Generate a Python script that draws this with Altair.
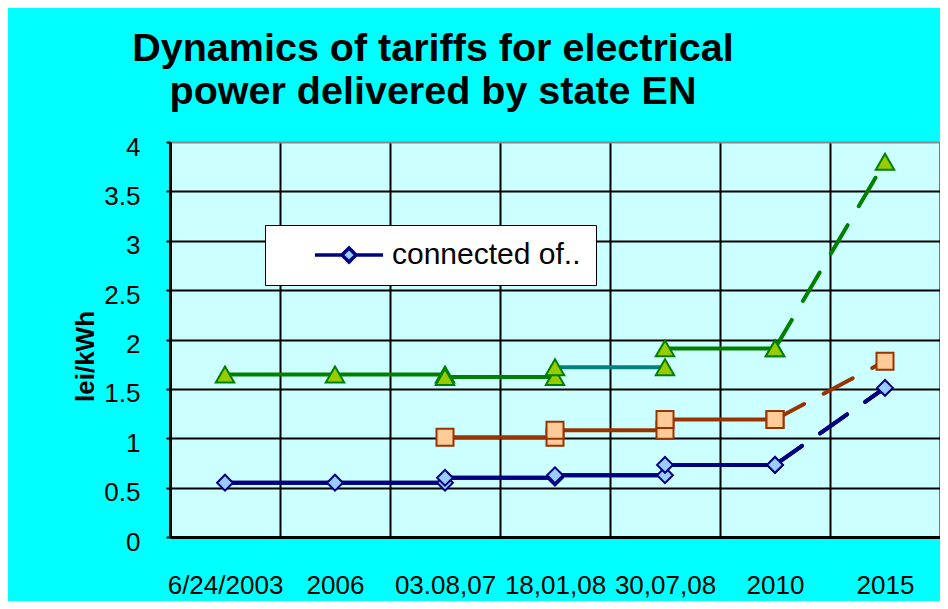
import altair as alt
import pandas as pd

categories = ["6/24/2003", "2006", "03.08,07", "18,01,08", "30,07,08", "2010", "2015"]

# "connected of.." series (blue diamonds), step segments
blue_a_x = ["6/24/2003", "2006", "03.08,07"]
blue_a_y = [0.55, 0.55, 0.55]
blue_b_x = ["03.08,07", "18,01,08"]
blue_b_y = [0.60, 0.60]
blue_c_x = ["18,01,08", "30,07,08"]
blue_c_y = [0.625, 0.625]
blue_d_x = ["30,07,08", "2010"]
blue_d_y = [0.73, 0.73]
blue_e_x = ["2010", "2015"]
blue_e_y = [0.73, 1.51]

# orange squares series
orange_a_x = ["03.08,07", "18,01,08"]
orange_a_y = [1.01, 1.01]
orange_b_x = ["18,01,08", "30,07,08"]
orange_b_y = [1.08, 1.08]
orange_c_x = ["30,07,08", "2010"]
orange_c_y = [1.19, 1.19]
orange_d_x = ["2010", "2015"]
orange_d_y = [1.19, 1.78]

# green triangles series
green_a_x = ["6/24/2003", "2006", "03.08,07"]
green_a_y = [1.645, 1.645, 1.645]
green_b_x = ["03.08,07", "18,01,08"]
green_b_y = [1.62, 1.62]
green_c_x = ["18,01,08", "30,07,08"]
green_c_y = [1.72, 1.72]
green_d_x = ["30,07,08", "2010"]
green_d_y = [1.91, 1.91]
green_e_x = ["2010", "2015"]
green_e_y = [1.91, 3.80]

legend_label = "connected of.."

styles = {
    "blue": {"line": "#000080", "fill": "#99CCFF", "shape": "diamond", "size": 250},
    "orange": {"line": "#993300", "fill": "#FFCC99", "shape": "square", "size": 289},
    "green": {"line": "#008000", "fill": "#99CC00", "shape": "triangle-up", "size": 340},
}

segments = [
    ("b1", "blue", blue_a_x, blue_a_y, "solid", None),
    ("b2", "blue", blue_b_x, blue_b_y, "solid", None),
    ("b3", "blue", blue_c_x, blue_c_y, "solid", None),
    ("b4", "blue", blue_d_x, blue_d_y, "solid", None),
    ("b5", "blue", blue_e_x, blue_e_y, "dashed", None),
    ("o1", "orange", orange_a_x, orange_a_y, "solid", None),
    ("o2", "orange", orange_b_x, orange_b_y, "solid", None),
    ("o3", "orange", orange_c_x, orange_c_y, "solid", None),
    ("o4", "orange", orange_d_x, orange_d_y, "dashed", None),
    ("g1", "green", green_a_x, green_a_y, "solid", None),
    ("g2", "green", green_b_x, green_b_y, "solid", None),
    ("g3", "green", green_c_x, green_c_y, "solid", "#008080"),
    ("g4", "green", green_d_x, green_d_y, "solid", None),
    ("g5", "green", green_e_x, green_e_y, "dashed", None),
]

rows = []
for seg, series, xs, ys, dash, line_override in segments:
    st = styles[series]
    for x, y in zip(xs, ys):
        rows.append({
            "date": x, "value": y, "seg": seg, "series": series, "dash": dash,
            "lineColor": line_override or st["line"], "stroke": st["line"],
            "fill": st["fill"], "shape": st["shape"], "msize": st["size"],
            "legend": legend_label,
        })
df = pd.DataFrame(rows)

FONT = "Liberation Sans"

x_enc = alt.X(
    "date:N",
    sort=categories,
    scale=alt.Scale(type="band", domain=categories, paddingInner=0, paddingOuter=0),
    axis=alt.Axis(
        title=None, tickBand="extent", grid=True, gridColor="black", gridWidth=2,
        domainColor="black", domainWidth=3, ticks=False, labelAngle=0,
        labelFont=FONT, labelFontSize=26, labelColor="black", labelPadding=35,
        labelBaseline="top", labelOverlap=False, labelLimit=0,
    ),
)
y_enc = alt.Y(
    "value:Q",
    scale=alt.Scale(domain=[0, 4], nice=False),
    axis=alt.Axis(
        values=[0, 0.5, 1, 1.5, 2, 2.5, 3, 3.5, 4], format=".1~f",
        title="lei/kWh", titleFont=FONT, titleFontSize=26, titleFontWeight="bold",
        titleColor="black", titleX=-77, titleY=214, titleAngle=270,
        titleAlign="center", titleBaseline="alphabetic",
        domainColor="black", domainWidth=3,
        gridColor={"condition": {"test": "datum.value === 4", "value": "#8a8a8a"}, "value": "black"},
        gridWidth=2, tickColor="black", tickWidth=2, tickSize=4,
        labelFont=FONT, labelFontSize=26, labelColor="black", labelPadding=26,
        labelOffset=5,
    ),
)

lines = alt.Chart(df).mark_line(strokeWidth=4, strokeCap="round").encode(
    x=x_enc, y=y_enc, detail="seg:N",
    color=alt.Color("lineColor:N", scale=None),
    strokeDash=alt.StrokeDash(
        "dash:N", scale=alt.Scale(domain=["solid", "dashed"], range=[[1, 0], [33, 22]]), legend=None
    ),
)

# legend symbol: a line with a diamond in the middle (path units scaled by sqrt(size)/2)
legend_path = (
    "M-2.57,0 L-0.53,0 M0.53,0 L2.57,0 "
    "M0,-0.53 L0.53,0 L0,0.53 L-0.53,0 Z"
)

legend_layer = alt.Chart(df[df["series"] == "blue"]).mark_line(
    strokeWidth=4, color="#000080", strokeCap="round"
).encode(
    x=x_enc, y=y_enc, detail="seg:N",
    strokeDash=alt.StrokeDash(
        "dash:N", scale=alt.Scale(domain=["solid", "dashed"], range=[[1, 0], [33, 22]]), legend=None
    ),
    opacity=alt.Opacity(
        "legend:N", scale=alt.Scale(domain=[legend_label], range=[1]),
        legend=alt.Legend(
            title=None, orient="none", legendX=95, legendY=83,
            fillColor="white", strokeColor="black", padding=15,
            symbolType=legend_path, symbolSize=702, symbolFillColor="#99CCFF",
            symbolStrokeColor="#000080", symbolStrokeWidth=3.5, symbolOpacity=1,
            symbolDash=[1, 0],
            symbolOffset=54, labelOffset=28,
            labelFont=FONT, labelFontSize=30, labelColor="black", labelLimit=0,
        ),
    ),
)

points = alt.Chart(df).mark_point(filled=True, strokeWidth=2, opacity=1).encode(
    x=x_enc, y=y_enc,
    shape=alt.Shape("shape:N", scale=None),
    fill=alt.Fill("fill:N", scale=None),
    stroke=alt.Stroke("stroke:N", scale=None),
    size=alt.Size("msize:Q", scale=None),
)

chart = alt.layer(lines, legend_layer, points).properties(
    width=770, height=395,
    autosize=alt.AutoSizeParams(type="none"),
    padding={"left": 162, "top": 134, "right": 0, "bottom": 64},
    background="#00FFFF",
    title=alt.TitleParams(
        text=["Dynamics of tariffs for electrical", "power delivered by state EN"],
        font=FONT, fontSize=39.5, fontWeight="bold", color="black",
        anchor="start", align="center", dx=263, lineHeight=43, frame="group",
        offset=0, dy=-22,
    ),
).configure_view(fill="#CCFFFF", stroke=None)

chart.save("out.html", embed_options={"renderer": "svg", "actions": False})
